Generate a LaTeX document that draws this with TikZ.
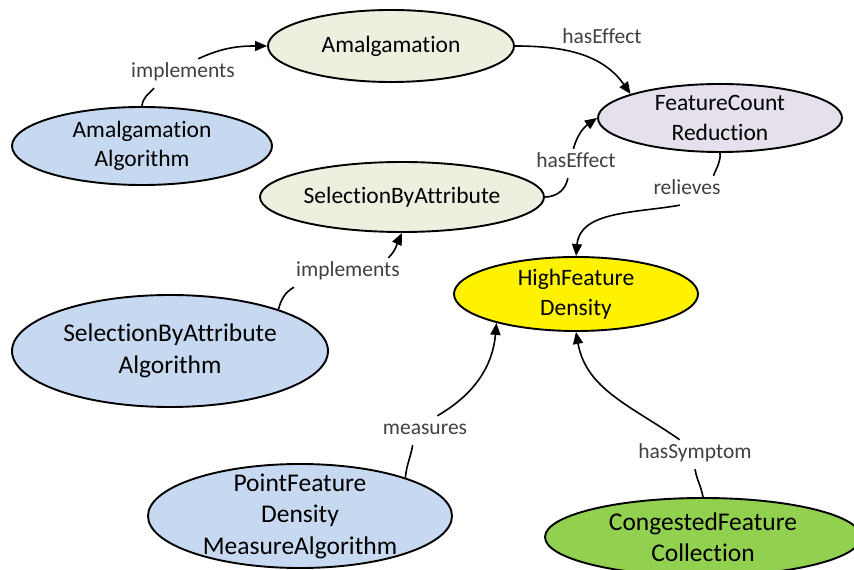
\documentclass[tikz,border=0pt]{standalone}
\usepackage{fontspec}
\setmainfont[RawFeature={-liga;-clig;-dlig}]{Carlito}
\usetikzlibrary{shapes.geometric,arrows.meta}
\definecolor{olivefill}{HTML}{EBF1DE}
\definecolor{lavfill}{HTML}{E5E0EC}
\definecolor{bluefill}{HTML}{C6D9F1}
\definecolor{greenfill}{HTML}{92D050}
\definecolor{labelgray}{HTML}{404040}
\begin{document}
\begin{tikzpicture}[x=1pt,y=1pt,
  concept/.style={ellipse, draw=black, line width=1.9pt, inner sep=-20pt, align=center,
    font=\fontsize{23.5}{29.5}\selectfont},
  bigconcept/.style={concept, font=\fontsize{25.5}{31.5}\selectfont},
  edgelabel/.style={text=labelgray, font=\fontsize{21.5}{25}\selectfont, text height=15pt,
    text depth=6pt, inner xsep=2pt, inner ysep=4pt, anchor=base},
  conn/.style={line width=1.6pt},
  arrowlink/.style={conn, -{Triangle[length=12pt,width=10pt]}}]

\useasboundingbox (0,0) rectangle (854,570);

% concepts
\node[concept, fill=olivefill, minimum width=246pt, minimum height=72pt] (amal) at (391,524) {Amalgamation};
\node[concept, fill=lavfill, minimum width=244pt, minimum height=68pt] (fcr) at (720,452) {FeatureCount\\Reduction};
\node[concept, fill=bluefill, minimum width=260pt, minimum height=78pt] (amalalg) at (142,424) {Amalgamation\\Algorithm};
\node[concept, fill=olivefill, minimum width=284pt, minimum height=70pt] (sba) at (402,373) {SelectionByAttribute};
\node[concept, fill=yellow, minimum width=244pt, minimum height=74pt] (hfd) at (576,276) {HighFeature\\Density};
\node[bigconcept, fill=bluefill, minimum width=316pt, minimum height=112pt] (sbaalg) at (170,219) {SelectionByAttribute\\Algorithm};
\node[bigconcept, fill=bluefill, minimum width=304pt, minimum height=104pt] (pfd) at (300,54) {PointFeature\\Density\\MeasureAlgorithm};
\node[bigconcept, fill=greenfill, minimum width=316pt, minimum height=78pt] (cfc) at (703,33) {CongestedFeature\\Collection};

% relation labels
\node[edgelabel] (impl1) at (183,492) {implements};
\node[edgelabel] (eff1) at (602,526) {hasEffect};
\node[edgelabel] (eff2) at (576,402) {hasEffect};
\node[edgelabel] (relv) at (687,375) {relieves};
\node[edgelabel] (impl2) at (348,293) {implements};
\node[edgelabel] (meas) at (425,135) {measures};
\node[edgelabel] (symp) at (695,111) {hasSymptom};

% connectors
\draw[conn] (amalalg.north) to[out=85,in=225] (impl1.207);
\draw[arrowlink] (impl1.44) to[out=25,in=180] (amal.west);
\draw[arrowlink] (amal.east) to[out=0,in=125] (fcr.165);
\draw[conn] (sba.east) to[out=0,in=-100] (eff2.241);
\draw[arrowlink] (eff2.100) to[out=75,in=215] (fcr.west);
\draw[conn] (fcr.south) to[out=-85,in=70] (relv.29);
\draw[arrowlink] (relv.244) to[out=190,in=85] (hfd.north);
\draw[conn] (sbaalg.21) to[out=75,in=210] (impl2.south west);
\draw[arrowlink] (impl2.20) to[out=45,in=245] (sba.south);
\draw[conn] (pfd.20) to[out=85,in=260] (meas.230);
\draw[arrowlink] (meas.50) to[out=30,in=-95] (hfd.200);
\draw[conn] (cfc.north) to[out=100,in=-80] (symp.south);
\draw[arrowlink] (symp.136) to[out=145,in=-80] (hfd.south);
\end{tikzpicture}
\end{document}
